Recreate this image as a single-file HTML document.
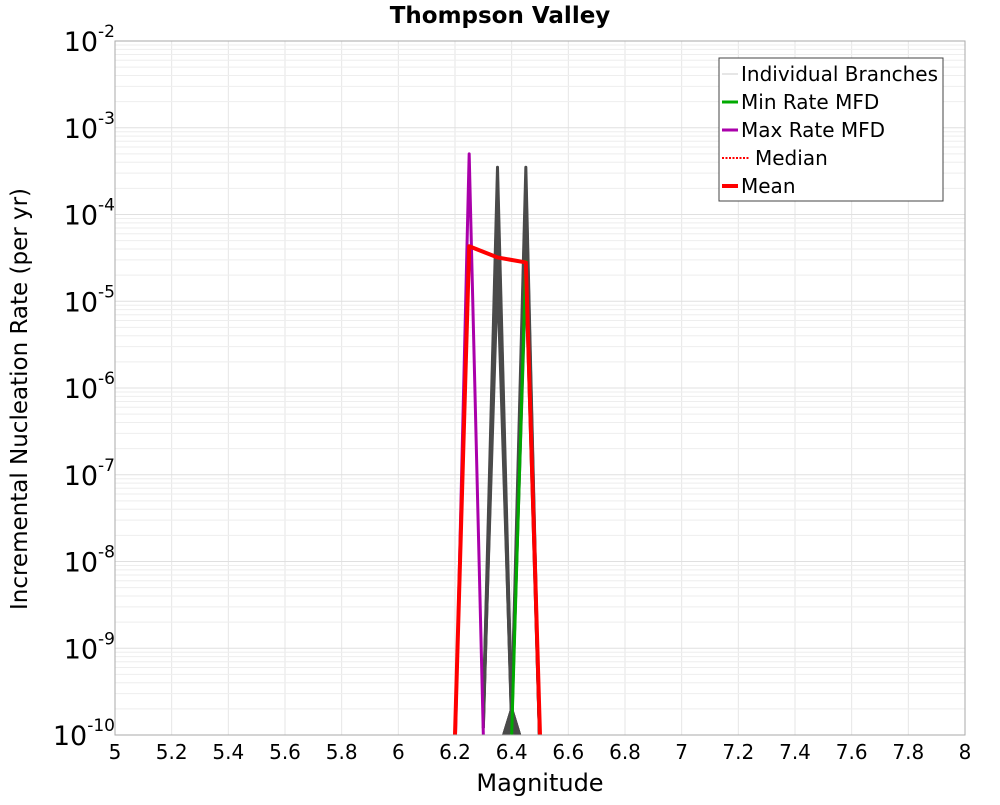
<!DOCTYPE html>
<html><head><meta charset="utf-8"><style>
body{margin:0;background:#fff;}
svg text{font-family:"DejaVu Sans","Liberation Sans",sans-serif;}
</style></head><body>
<svg id="chart" width="1000" height="800" xmlns="http://www.w3.org/2000/svg">
<rect width="1000" height="800" fill="#fff"/>
<text x="500" y="23" text-anchor="middle" font-size="23" font-weight="bold">Thompson Valley</text>
<g id="grid"></g>
<g id="series"></g>
<rect x="115" y="41" width="850" height="694" fill="none" stroke="#aaa" stroke-width="1"/>
<g id="ticks"></g>
<text x="540" y="791" text-anchor="middle" font-size="24">Magnitude</text>
<text transform="translate(27,399) rotate(-90)" text-anchor="middle" font-size="23">Incremental Nucleation Rate (per yr)</text>
<g>
<rect x="719" y="58" width="224" height="143" fill="#fff" stroke="#444" stroke-width="1"/>
<line x1="722" y1="74" x2="738" y2="74" stroke="#ccc" stroke-width="1"/>
<text x="741" y="81" font-size="20">Individual Branches</text>
<line x1="722" y1="102" x2="738" y2="102" stroke="#00aa00" stroke-width="3"/>
<text x="741" y="109" font-size="20">Min Rate MFD</text>
<line x1="722" y1="130" x2="738" y2="130" stroke="#aa00aa" stroke-width="3"/>
<text x="741" y="137" font-size="20">Max Rate MFD</text>
<line x1="722" y1="158" x2="750" y2="158" stroke="#f00" stroke-width="2" stroke-dasharray="2,1.5"/>
<text x="755" y="165" font-size="20">Median</text>
<line x1="722" y1="186" x2="738" y2="186" stroke="#f00" stroke-width="4"/>
<text x="741" y="193" font-size="20">Mean</text>
</g>
</svg>
<script>
const xTicks=[5,5.2,5.4,5.6,5.8,6,6.2,6.4,6.6,6.8,7,7.2,7.4,7.6,7.8,8];
const yExps=[-2,-3,-4,-5,-6,-7,-8,-9,-10];
const branchMags=[6.3,6.35,6.4,6.45,6.5];
const branchPeaks=[3.5e-4,2.5e-4,1.6e-4,1e-4,6e-5,4e-5,3e-5,2e-5];
const branchMins=[2e-10,1.5e-10,1.2e-10];
const minMags=[6.4,6.45];
const minRate=[1e-10,3e-5];
const maxMags=[6.2,6.25,6.3];
const maxRate=[1e-11,5e-4,1e-10];
const meanMags=[6.2,6.25,6.35,6.45,6.5];
const meanRate=[1e-10,4.3e-5,3.2e-5,2.8e-5,1e-10];
const X0=115,X1=965,Y0=41,Y1=735;
const xs=m=>X0+(m-5)/3*(X1-X0);
const ys=v=>Y0+(-2-Math.log10(v))/8*(Y1-Y0);
const NS="http://www.w3.org/2000/svg";
function mk(tag,attrs,parent){const e=document.createElementNS(NS,tag);for(const k in attrs)e.setAttribute(k,attrs[k]);parent.appendChild(e);return e;}
const grid=document.getElementById('grid'),ticks=document.getElementById('ticks'),series=document.getElementById('series');
for(const t of xTicks){
  const l=mk('line',{x1:xs(t),x2:xs(t),y1:Y0,y2:Y1,stroke:'#e6e6e6'},grid);
  
  
  const tx=mk('text',{x:xs(t),y:759,'text-anchor':'middle','font-size':'20'},ticks);
  
  
  tx.textContent=String(t);
}
for(let e=-10;e<-2;e++){for(let k=1;k<10;k++){
  const v=k*Math.pow(10,e);
  const l=mk('line',{x1:X0,x2:X1,y1:ys(v),y2:ys(v),stroke:k==1?'#e0e0e0':'#eeeeee'},grid);
  
  
}}
for(const e of yExps){
  const tx=mk('text',{x:115,y:ys(Math.pow(10,e))+10,'text-anchor':'end','font-size':'27'},ticks);
  
  
  tx.textContent='10';
  const sp=mk('tspan',{dy:'-14','font-size':'17'},tx);
  sp.textContent=String(e);
}
function clipY(v){return Math.min(ys(v),Y1+20);}
function poly(mg,vals,color,w,name){
  const pts=mg.map((m,i)=>xs(m)+','+clipY(vals[i])).join(' ');
  const p=mk('polyline',{points:pts,fill:'none',stroke:color,'stroke-width':w,'stroke-linejoin':'round'},series);
  
  
}
const clip=mk('clipPath',{id:'pc'},document.getElementById('chart'));
mk('rect',{x:X0,y:Y0,width:X1-X0,height:Y1-Y0},clip);
series.setAttribute('clip-path','url(#pc)');
branchPeaks.forEach((pk,i)=>{
  const lo=branchMins[i%branchMins.length];
  poly(branchMags,[lo,pk,lo,1e-11,1e-11],'#4a4a4a',3,'branch-line-a');
  poly(branchMags,[1e-11,1e-11,lo,pk,1e-11],'#4a4a4a',3,'branch-line-b');
});
poly(minMags,minRate,'#00aa00',3,'min-rate-line');
poly(maxMags,maxRate,'#aa00aa',3,'max-rate-line');
poly(meanMags,meanRate,'#ff0000',4,'mean-line');
</script>
</body></html>
